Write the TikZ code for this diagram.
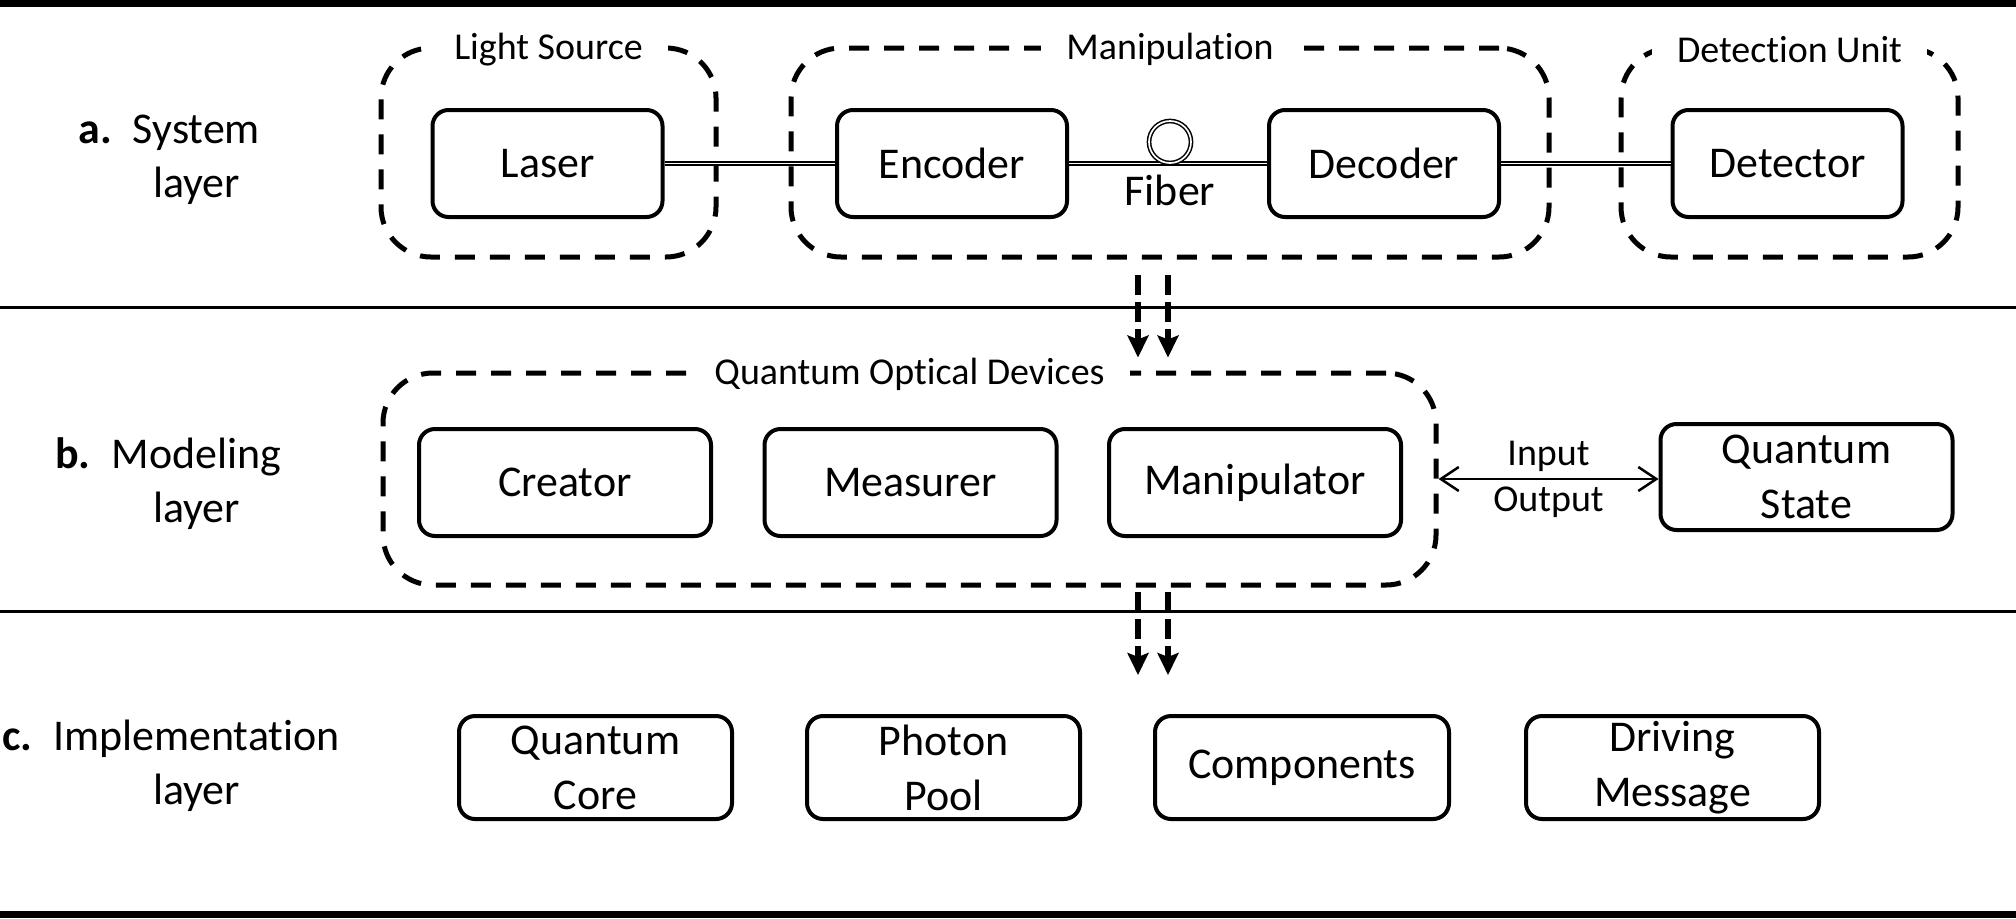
\documentclass[tikz,border=0pt]{standalone}
\usepackage{fontspec}
\setmainfont{Carlito}[Ligatures={TeX,NoCommon}]
\usetikzlibrary{calc}
\usetikzlibrary{positioning}
\usetikzlibrary{arrows.meta}

\newcommand{\boxfont}{\fontsize{12.5}{15.6}\selectfont}
\newcommand{\tagfont}{\fontsize{10.8}{13}\selectfont}

\begin{document}
\begin{tikzpicture}[x=1mm, y=-1mm,
    unit/.style={draw, line width=0.4mm, rounded corners=1.6mm, minimum width=23mm, minimum height=10.7mm, inner sep=0pt, align=center, font=\boxfont},
    group/.style={draw, line width=0.5mm, dash pattern=on 2mm off 1.5mm, rounded corners=5mm, inner sep=0pt},
    grouptag/.style={fill=white, inner xsep=2.5mm, inner ysep=0.5mm, yshift=-0.4mm, font=\tagfont},
    layertag/.style={anchor=base, inner sep=0pt, font=\boxfont},
    fiber/.style={double, double distance=0.17mm, line width=0.15mm},
    flow/.style={line width=0.6mm, dash pattern=on 2mm off 0.7mm, -{Stealth[length=2.2mm, width=2.1mm, inset=0.4mm]}},
    io/.style={line width=0.25mm, {Straight Barb[length=1.8mm, width=2.4mm]}-{Straight Barb[length=1.8mm, width=2.4mm]}}
]

    \useasboundingbox (0,0) rectangle (201.6,91.8);

    % layer rules
    \fill (0,0) rectangle (201.6,0.7);
    \fill (0,91.1) rectangle (201.6,91.8);
    \draw[line width=0.3mm] (0,30.7) -- (201.6,30.7);
    \draw[line width=0.3mm] (0,61.1) -- (201.6,61.1);

    \node[layertag] (systag) at (19.65,14.3) {\llap{\textbf{a.}\hspace{2.1mm}}\begin{tabular}[t]{@{}c@{}}System\\layer\end{tabular}};
    \node[layertag] (modtag) at (19.65,46.8) {\llap{\textbf{b.}\hspace{2.1mm}}\begin{tabular}[t]{@{}c@{}}Modeling\\layer\end{tabular}};
    \node[layertag] (imptag) at (19.65,75.0) {\llap{\textbf{c.}\hspace{2.1mm}}\begin{tabular}[t]{@{}c@{}}Implementation\\layer\end{tabular}};

    % system layer
    \node[group, minimum width=33.5mm, minimum height=20.9mm] (source) at (54.85,15.25) {};
    \node[group, minimum width=75.8mm, minimum height=20.9mm] (manip) at (117.0,15.25) {};
    \node[group, minimum width=33.7mm, minimum height=20.9mm] (detect) at (178.95,15.25) {};
    \node[grouptag] (sourcetag) at (source.north) {Light Source};
    \node[grouptag] (maniptag) at (manip.north) {Manipulation};
    \node[grouptag] (detecttag) at (detect.north) {Detection Unit};

    \node[unit] (laser) at (54.75,16.35) {Laser};
    \node[unit] (encoder) at (95.2,16.35) {Encoder};
    \node[unit] (decoder) at (138.4,16.35) {Decoder};
    \node[unit] (detector) at (178.75,16.35) {Detector};

    \draw[fiber] (laser) -- (encoder);
    \draw[fiber] (encoder) -- (decoder);
    \draw[fiber] (decoder) -- (detector);
    \node[circle, draw, fiber, minimum size=4.2mm, inner sep=0pt] (loop) at (117.0,14.2) {};
    \node[below=1.1mm of loop, inner sep=0pt, font=\boxfont] (fiberlbl) {Fiber};

    % modeling layer
    \node[group, minimum width=105.3mm, minimum height=21.2mm] (devices) at (90.95,47.9) {};
    \node[grouptag] (devicestag) at (devices.north) {Quantum Optical Devices};

    \node[unit, minimum width=29.2mm] (creator) at (56.5,48.25) {Creator};
    \node[unit, minimum width=29.2mm] (measurer) at (91.05,48.25) {Measurer};
    \node[unit, minimum width=29.2mm] (manipulator) at (125.5,48.25) {Manipulator};
    \node[unit, minimum width=29.2mm, minimum height=10.6mm] (qstate) at (180.65,47.7) {Quantum\\State};

    \draw[io] (devices.east) -- (devices.east -| qstate.west)
        node[midway, above=0.6mm, inner sep=0pt, font=\tagfont] (inlbl) {Input}
        node[midway, below=0.7mm, inner sep=0pt, font=\tagfont] (outlbl) {Output};

    \draw[flow] ($(manip.south)+(-3.2,1.55)$) -- ($(manip.south |- devices.north)+(-3.2,-1.3)$);
    \draw[flow] ($(manip.south)+(-0.2,1.55)$) -- ($(manip.south |- devices.north)+(-0.2,-1.3)$);

    % implementation layer
    \node[unit, minimum width=27.3mm, minimum height=10.3mm] (core) at (59.55,76.75) {Quantum\\Core};
    \node[unit, minimum width=27.3mm, minimum height=10.3mm] (photon) at (94.35,76.75) {Photon\\Pool};
    \node[unit, minimum width=29.4mm, minimum height=10.3mm] (parts) at (130.2,76.75) {Components};
    \node[unit, minimum width=29.3mm, minimum height=10.3mm] (driving) at (167.25,76.75) {Driving\\Message};

    \draw[flow] ($(manip.south |- devices.south)+(-3.2,0.45)$) -- ($(manip.south |- core.north)+(-3.2,-3.9)$);
    \draw[flow] ($(manip.south |- devices.south)+(-0.2,0.45)$) -- ($(manip.south |- core.north)+(-0.2,-3.9)$);

\end{tikzpicture}
\end{document}
